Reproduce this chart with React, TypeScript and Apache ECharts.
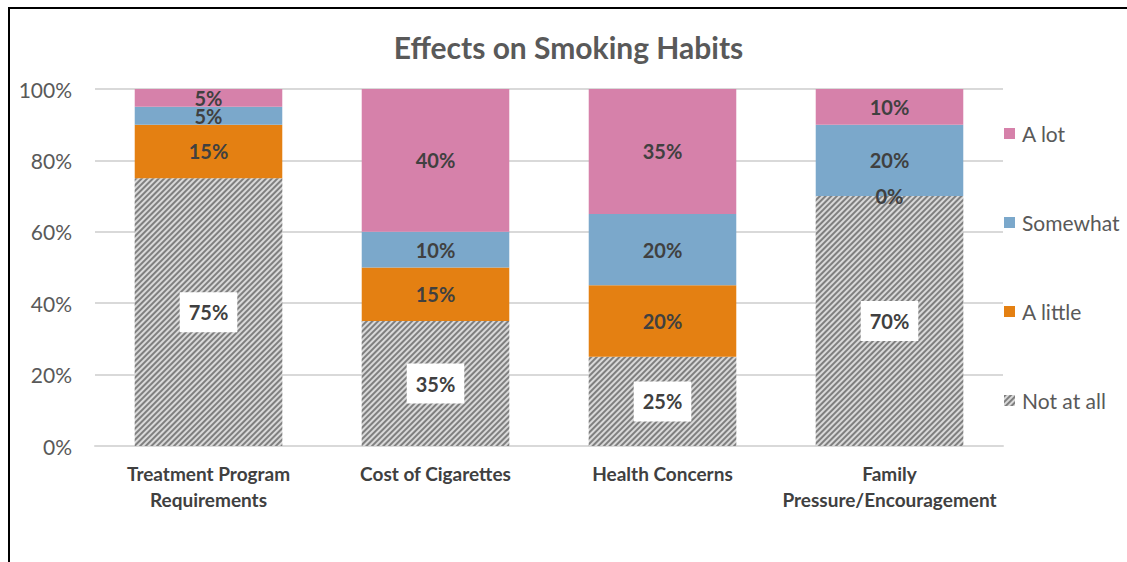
import React, { useEffect, useRef } from "react";
import * as echarts from "echarts";

const categories = [
  "Treatment Program\nRequirements",
  "Cost of Cigarettes",
  "Health Concerns",
  "Family\nPressure/Encouragement",
];
const notAtAll = [75, 35, 25, 70];
const aLittle = [15, 15, 20, 0];
const somewhat = [5, 10, 20, 20];
const aLot = [5, 40, 35, 10];
const yTicks = [0, 20, 40, 60, 80, 100];

const FONT = "Lato, 'Open Sans', sans-serif";
const labelBase = {
  show: true,
  position: "inside" as const,
  formatter: (p: any) => `${p.value}%`,
  fontFamily: FONT,
  fontSize: 20,
  fontWeight: "bold" as const,
  color: "#404040",
};

export default function App() {
  const ref = useRef<HTMLDivElement>(null);
  useEffect(() => {
    if (!ref.current) return;
    const chart = echarts.init(ref.current, undefined, { renderer: "svg" });
    chart.setOption({
      animation: false,
      backgroundColor: "#ffffff",
      textStyle: { fontFamily: FONT },
      title: {
        text: "Effects on Smoking Habits",
        left: "center",
        top: 18,
        textStyle: { fontFamily: FONT, fontSize: 30, fontWeight: "bold", color: "#595959" },
      },
      legend: {
        orient: "vertical",
        left: 989,
        top: 109,
        itemGap: 68,
        itemWidth: 11,
        itemHeight: 11,
        icon: "rect",
        data: ["A lot", "Somewhat", "A little", "Not at all"],
        textStyle: { fontFamily: FONT, fontSize: 21, color: "#595959", padding: [0, 0, 0, 2] },
      },
      grid: { left: 85, right: 124, top: 80, bottom: 116 },
      xAxis: {
        type: "category",
        data: categories,
        axisLine: { lineStyle: { color: "#d9d9d9", width: 2 } },
        axisTick: { show: false },
        axisLabel: {
          fontFamily: FONT,
          fontSize: 19,
          fontWeight: "bold",
          color: "#404040",
          lineHeight: 26,
          margin: 14,
          interval: 0,
        },
      },
      yAxis: {
        type: "value",
        min: yTicks[0],
        max: yTicks[yTicks.length - 1],
        interval: 20,
        axisLine: { show: false },
        axisTick: { show: false },
        axisLabel: {
          formatter: "{value}%",
          fontFamily: FONT,
          fontSize: 21,
          color: "#595959",
          margin: 23,
        },
        splitLine: { lineStyle: { color: "#d9d9d9", width: 2 } },
      },
      series: [
        {
          name: "Not at all",
          type: "bar",
          stack: "s",
          barWidth: "65%",
          data: notAtAll,
          itemStyle: {
            color: "#d9d9d9",
            decal: {
              symbol: "rect",
              symbolSize: 1,
              dashArrayX: [1, 0],
              dashArrayY: [2, 2],
              rotation: -Math.PI / 4,
              color: "#7f7f7f",
            },
          },
          label: { ...labelBase, backgroundColor: "#ffffff", padding: [10, 9] },
        },
        {
          name: "A little",
          type: "bar",
          stack: "s",
          data: aLittle,
          itemStyle: { color: "#e48012" },
          label: labelBase,
        },
        {
          name: "Somewhat",
          type: "bar",
          stack: "s",
          data: somewhat,
          itemStyle: { color: "#7ba8cb" },
          label: labelBase,
        },
        {
          name: "A lot",
          type: "bar",
          stack: "s",
          data: aLot,
          itemStyle: { color: "#d681aa" },
          label: labelBase,
        },
      ],
    });
    return () => chart.dispose();
  }, []);
  return (
    <div
      style={{
        position: "fixed",
        left: 8,
        top: 7,
        width: 1119,
        height: 555,
        borderLeft: "2px solid #000",
        borderTop: "2px solid #000",
        boxSizing: "border-box",
      }}
    >
      <div ref={ref} style={{ width: 1117, height: 553 }} />
    </div>
  );
}
